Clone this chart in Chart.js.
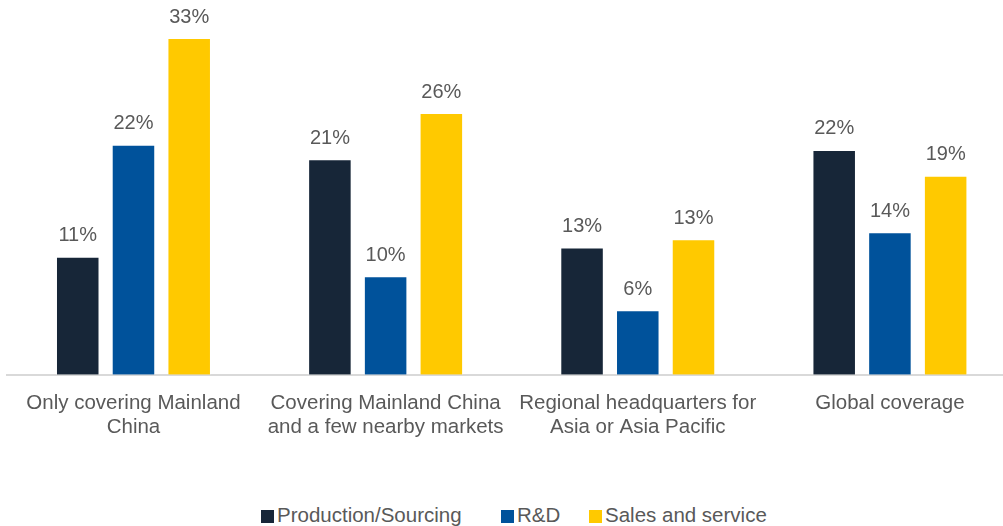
<!DOCTYPE html>
<html>
<head>
<meta charset="utf-8">
<script src="https://cdn.jsdelivr.net/npm/chart.js@4.4.0/dist/chart.umd.min.js"></script>
<style>
  html, body { margin: 0; padding: 0; background: #ffffff; }
  #wrap { position: relative; width: 1003px; height: 526px; overflow: hidden; background: #fff; }
  #c { position: absolute; left: 0; top: 0; }
  .lg { position: absolute; top: 503px; height: 24px; line-height: 24px; font-family: "Liberation Sans", Arial, sans-serif; font-size: 20.5px; color: #595959; white-space: nowrap; }
  .lg span.sw { display: inline-block; width: 13px; height: 13px; margin-right: 3px; vertical-align: -1px; }
</style>
</head>
<body>
<div id="wrap">
  <canvas id="c" width="1020" height="456"></canvas>
  <div id="legend"></div>
</div>
<script>
const categories = [
  ["Only covering Mainland", "China"],
  ["Covering Mainland China", "and a few nearby markets"],
  ["Regional headquarters for", "Asia or Asia Pacific"],
  ["Global coverage"]
];
const seriesNames = ["Production/Sourcing", "R&D", "Sales and service"];
const seriesColors = ["#172638", "#00529B", "#FFC900"];
// values as measured from bar heights (percent)
const productionValues = [11.5, 21.0, 12.4, 21.9];
const rdValues = [22.4, 9.6, 6.3, 13.9];
const salesValues = [32.8, 25.5, 13.2, 19.4];
// printed labels
const productionLabels = ["11%", "21%", "13%", "22%"];
const rdLabels = ["22%", "10%", "6%", "14%"];
const salesLabels = ["33%", "26%", "13%", "19%"];

const allValues = [productionValues, rdValues, salesValues];
const allLabels = [productionLabels, rdLabels, salesLabels];

const datasets = seriesNames.map((name, i) => ({
  label: name,
  data: allValues[i],
  valueLabels: allLabels[i],
  backgroundColor: seriesColors[i],
  borderColor: "rgba(255,255,255,0.35)",
  borderWidth: 1,
  barPercentage: 0.781,
  categoryPercentage: 0.663
}));

const labelPlugin = {
  id: "valueLabels",
  afterDatasetsDraw(chart) {
    const ctx = chart.ctx;
    ctx.save();
    ctx.font = "20px 'Liberation Sans', Arial, sans-serif";
    ctx.fillStyle = "#595959";
    ctx.textAlign = "center";
    ctx.textBaseline = "alphabetic";
    chart.data.datasets.forEach((ds, di) => {
      const meta = chart.getDatasetMeta(di);
      meta.data.forEach((el, j) => {
        ctx.fillText(ds.valueLabels[j], el.x, el.y - 15.5);
      });
    });
    ctx.restore();
  }
};

new Chart(document.getElementById("c"), {
  type: "bar",
  data: { labels: categories, datasets: datasets },
  options: {
    responsive: false,
    devicePixelRatio: 1,
    animation: false,
    layout: { padding: { top: 15.5, left: 7.4, right: 4, bottom: 0 } },
    plugins: { legend: { display: false }, tooltip: { enabled: false } },
    scales: {
      x: {
        grid: { display: false, drawTicks: false },
        border: { display: true, color: "#d9d9d9", width: 2 },
        ticks: {
          color: "#595959",
          font: { family: "'Liberation Sans', Arial, sans-serif", size: 20.5, lineHeight: 1.15 },
          padding: 17,
          maxRotation: 0,
          autoSkip: false
        }
      },
      y: {
        display: false,
        min: 0,
        max: 35
      }
    }
  },
  plugins: [labelPlugin]
});

// HTML legend
const legendLefts = [261, 501, 589];
const legendEl = document.getElementById("legend");
seriesNames.forEach((name, i) => {
  const d = document.createElement("div");
  d.className = "lg";
  d.style.left = legendLefts[i] + "px";
  const sw = document.createElement("span");
  sw.className = "sw";
  sw.style.background = seriesColors[i];
  d.appendChild(sw);
  d.appendChild(document.createTextNode(name));
  legendEl.appendChild(d);
});
</script>
</body>
</html>
